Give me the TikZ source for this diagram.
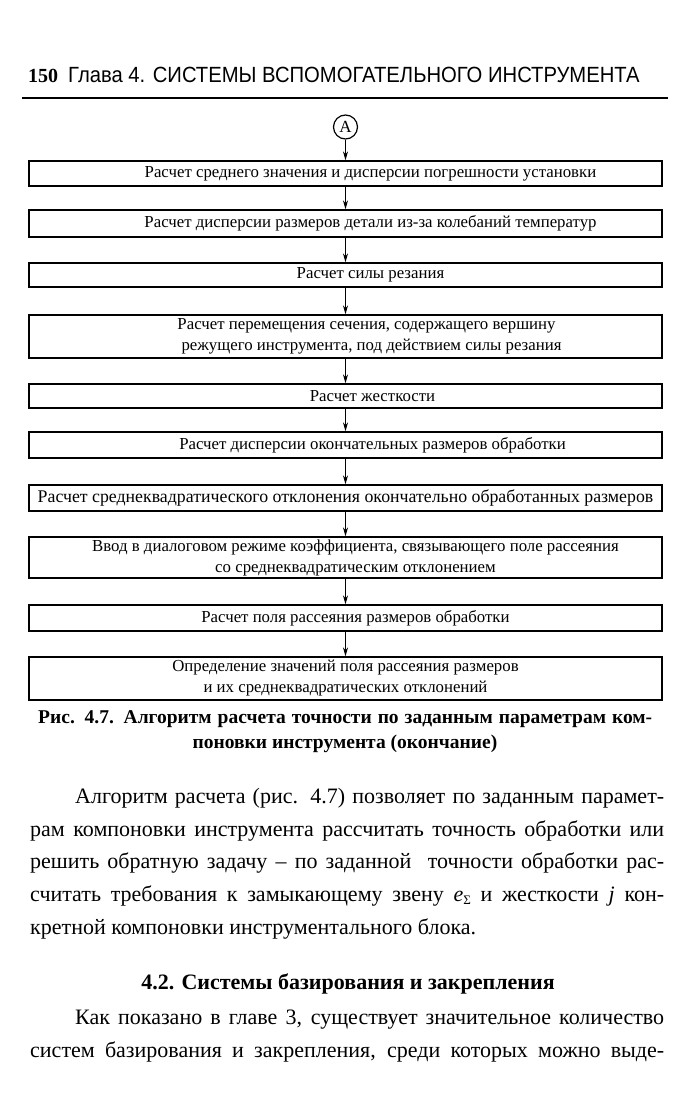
\documentclass[tikz,border=0pt]{standalone}
\usepackage{fontspec}
\setmainfont{Liberation Serif}
\newfontfamily\headfont{Liberation Sans}[FakeStretch=0.92]
\usetikzlibrary{arrows.meta,positioning}
\tikzset{
  stage/.style={draw, line width=1.3pt, rectangle, minimum width=633pt, inner sep=0pt, align=center, font=\fontsize{16.8}{21}\selectfont},
  flow/.style={-{Stealth[length=9pt,width=5pt]}, line width=1.1pt},
  bodyline/.style={anchor=base west, inner sep=0pt, font=\fontsize{22}{33}\selectfont},
  caption/.style={inner sep=0pt, font=\fontsize{19.5}{25}\selectfont\bfseries}
}

\begin{document}
\begin{tikzpicture}[x=1pt, y=-1pt]
  \useasboundingbox (0,0) rectangle (693,1100);
  % running head
  \node[anchor=base west, inner sep=0pt, font=\fontsize{20}{20}\selectfont\bfseries] (pagenum) at (28,82) {150};
  \node[anchor=base west, inner sep=0pt, font=\fontsize{22}{22}\headfont] (runhead) at (68,82) {Глава 4. СИСТЕМЫ ВСПОМОГАТЕЛЬНОГО ИНСТРУМЕНТА};
  \draw[line width=2pt] (22,98) -- (668,98);
  % flowchart
  \node[circle, draw, line width=1.2pt, minimum size=24pt, inner sep=0pt, font=\fontsize{17}{17}\selectfont] (conn) at (345.5,127) {A};
  \node[stage, minimum height=25pt] (s1) at (345.5,173.5) {\hspace*{50pt}Расчет среднего значения и дисперсии погрешности установки};
  \node[stage, minimum height=27pt] (s2) at (345.5,223.5) {\hspace*{50pt}Расчет дисперсии размеров детали из-за колебаний температур};
  \node[stage, minimum height=24pt] (s3) at (345.5,275) {\hspace*{50pt}Расчет силы резания};
  \node[stage, minimum height=43pt] (s4) at (345.5,336.5) {\hspace*{42pt}Расчет перемещения сечения, содержащего вершину\\ \hspace*{52pt}режущего инструмента, под действием силы резания};
  \node[stage, minimum height=24pt] (s5) at (345.5,396) {\hspace*{54pt}Расчет жесткости};
  \node[stage, minimum height=26pt] (s6) at (345.5,445) {\hspace*{54pt}Расчет дисперсии окончательных размеров обработки};
  \node[stage, minimum height=26pt, font=\fontsize{17.8}{21}\selectfont] (s7) at (345.5,498) {Расчет среднеквадратического отклонения окончательно обработанных размеров};
  \node[stage, minimum height=41pt] (s8) at (345.5,557.5) {\hspace*{20pt}Ввод в диалоговом режиме коэффициента, связывающего поле рассеяния\\ \hspace*{20pt}со среднеквадратическим отклонением};
  \node[stage, minimum height=26pt] (s9) at (345.5,618) {\hspace*{20pt}Расчет поля рассеяния размеров обработки};
  \node[stage, minimum height=43pt] (s10) at (345.5,678.5) {Определение значений поля рассеяния размеров\\ и их среднеквадратических отклонений};
  \draw[flow] (conn) -- (s1);
  \foreach \a/\b in {s1/s2, s2/s3, s3/s4, s4/s5, s5/s6, s6/s7, s7/s8, s8/s9, s9/s10}
    \draw[flow] (\a) -- (\b);
  % caption
  \node[caption, anchor=base west] (cap1) at (38,723) {\makebox[614pt][s]{Рис. 4.7. Алгоритм расчета точности по заданным параметрам ком-}};
  \node[caption, anchor=base] (cap2) at (345,748) {поновки инструмента (окончание)};
  % text
  \node[bodyline] (p1) at (75,803) {\makebox[589pt][s]{Алгоритм расчета (рис. 4.7) позволяет по заданным парамет-}};
  \node[bodyline] (p2) at (30,836) {\makebox[634pt][s]{рам компоновки инструмента рассчитать точность обработки или}};
  \node[bodyline] (p3) at (30,868) {\makebox[634pt][s]{решить обратную задачу – по заданной \ точности обработки рас-}};
  \node[bodyline] (p4) at (30,901) {\makebox[634pt][s]{считать требования к замыкающему звену \textit{e}\raisebox{-0.35ex}{\fontsize{13}{13}\selectfont Σ} и жесткости \textit{j} кон-}};
  \node[bodyline] (p5) at (30,934) {кретной компоновки инструментального блока.};
  \node[caption, anchor=base, font=\fontsize{22}{26}\selectfont\bfseries] (sec) at (348,989) {4.2. Системы базирования и закрепления};
  \node[bodyline] (q1) at (75,1024) {\makebox[589pt][s]{Как показано в главе 3, существует значительное количество}};
  \node[bodyline] (q2) at (30,1057) {\makebox[634pt][s]{систем базирования и закрепления, среди которых можно выде-}};
\end{tikzpicture}
\end{document}
